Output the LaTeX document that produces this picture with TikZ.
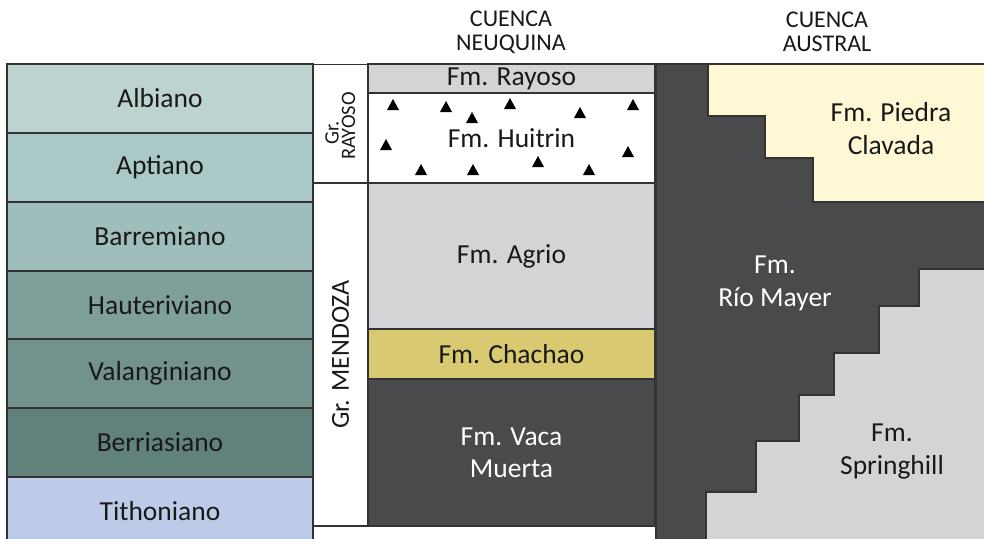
\documentclass[tikz,border=0pt]{standalone}
\usepackage{fontspec}
\setmainfont{Carlito}
\usepackage{tikz}
\definecolor{edge}{HTML}{333333}
\definecolor{albiano}{HTML}{BDD3D0}
\definecolor{aptiano}{HTML}{AAC8C5}
\definecolor{barremiano}{HTML}{9FBDBA}
\definecolor{hauteriviano}{HTML}{7F9F9B}
\definecolor{valanginiano}{HTML}{73928E}
\definecolor{berriasiano}{HTML}{60817C}
\definecolor{tithoniano}{HTML}{BECBE8}
\definecolor{lightfm}{HTML}{D3D4D6}
\definecolor{chachao}{HTML}{D9CA72}
\definecolor{darkfm}{HTML}{4A4A4C}
\definecolor{piedra}{HTML}{FEF8D4}
\tikzset{
	cell/.style = {shape=rectangle, draw=edge, line width=1.2pt, inner sep=0pt, align=center, text=black!90, font=\fontsize{27.5}{32}\selectfont},
	stage/.style = {cell, minimum width=306pt},
	fm/.style = {cell, minimum width=287pt},
	grp/.style = {cell, rotate=90, minimum height=55pt},
	grtext/.style = {rotate=90, inner sep=0pt, text=black!90, font=\fontsize{20.5}{20.5}\selectfont},
	head/.style = {align=center, text=black!90, font=\fontsize{24}{24}\selectfont},
	lbl/.style = {align=center, text=black!90, font=\fontsize{27.5}{33}\selectfont},
}

\begin{document}
\begin{tikzpicture}[x=1pt, y=-1pt]
	\useasboundingbox (0,0) rectangle (984,538);

	\node[head] (neuquina) at (511,32) {CUENCA\\NEUQUINA};
	\node[head] (austral) at (827,32) {CUENCA\\AUSTRAL};

	\node[stage, fill=albiano, minimum height=69pt] (albiano) at (160,98.5) {Albiano};
	\node[stage, fill=aptiano, minimum height=69pt] (aptiano) at (160,167.5) {Aptiano};
	\node[stage, fill=barremiano, minimum height=69pt] (barremiano) at (160,236.5) {Barremiano};
	\node[stage, fill=hauteriviano, minimum height=68pt] (hauteriviano) at (160,305) {Hauteriviano};
	\node[stage, fill=valanginiano, minimum height=69pt] (valanginiano) at (160,373.5) {Valanginiano};
	\node[stage, fill=berriasiano, minimum height=69pt] (berriasiano) at (160,442.5) {Berriasiano};
	\node[stage, fill=tithoniano, minimum height=68pt] (tithoniano) at (160,511) {Tithoniano};

	\node[grp, fill=white, minimum width=119pt] (gr-rayoso) at (340.5,124) {};
	\node[grtext] (gr-rayoso-a) at (332,133) {Gr.};
	\node[grtext] (gr-rayoso-b) at (348.5,126) {RAYOSO};
	\node[grp, fill=white, minimum width=343pt, font=\fontsize{26}{26}\selectfont] (gr-mendoza) at (340.5,354.5) {Gr. MENDOZA};

	\node[fm, fill=lightfm, minimum height=29pt] (rayoso) at (511.5,78.5) {Fm. Rayoso};
	\node[fm, fill=white, minimum height=90pt] (huitrin) at (511.5,138) {Fm. Huitrin};
	\node[fm, fill=lightfm, minimum height=146pt] (agrio) at (511.5,256) {Fm. Agrio};
	\node[fm, fill=chachao, minimum height=50pt] (chachao) at (511.5,354) {Fm. Chachao};
	\node[fm, fill=darkfm, text=white, minimum height=147pt] (vaca) at (511.5,452.5) {Fm. Vaca\\Muerta};

	\foreach \x/\y in {393/105, 446/107, 472/118, 510/104, 580/113, 633/105, 386/145, 628/152, 421/170, 473/170, 538/162, 589/170}
		\fill (\x,\y) +(-6,5) -- +(6,5) -- +(0,-6) -- cycle;

	\draw[line width=1.2pt, draw=edge, fill=darkfm] (656,64) rectangle (995,548);
	\draw[line width=1.2pt, draw=edge, fill=piedra] (995,64) -- (708,64) -- (708,116) -- (765,116) -- (765,158) -- (813,158) -- (813,202) -- (995,202);
	\draw[line width=1.2pt, draw=edge, fill=lightfm] (995,269) -- (919,269) -- (919,306) -- (879,306) -- (879,353) -- (834,353) -- (834,395) -- (799,395) -- (799,441) -- (756,441) -- (756,492) -- (706,492) -- (706,548) -- (995,548);

	\node[lbl] (piedra) at (891,129) {Fm. Piedra\\Clavada};
	\node[lbl, text=white] (riomayer) at (775,283) {Fm.\\Río Mayer};
	\node[lbl] (springhill) at (892,452) {Fm.\\Springhill};
\end{tikzpicture}
\end{document}
